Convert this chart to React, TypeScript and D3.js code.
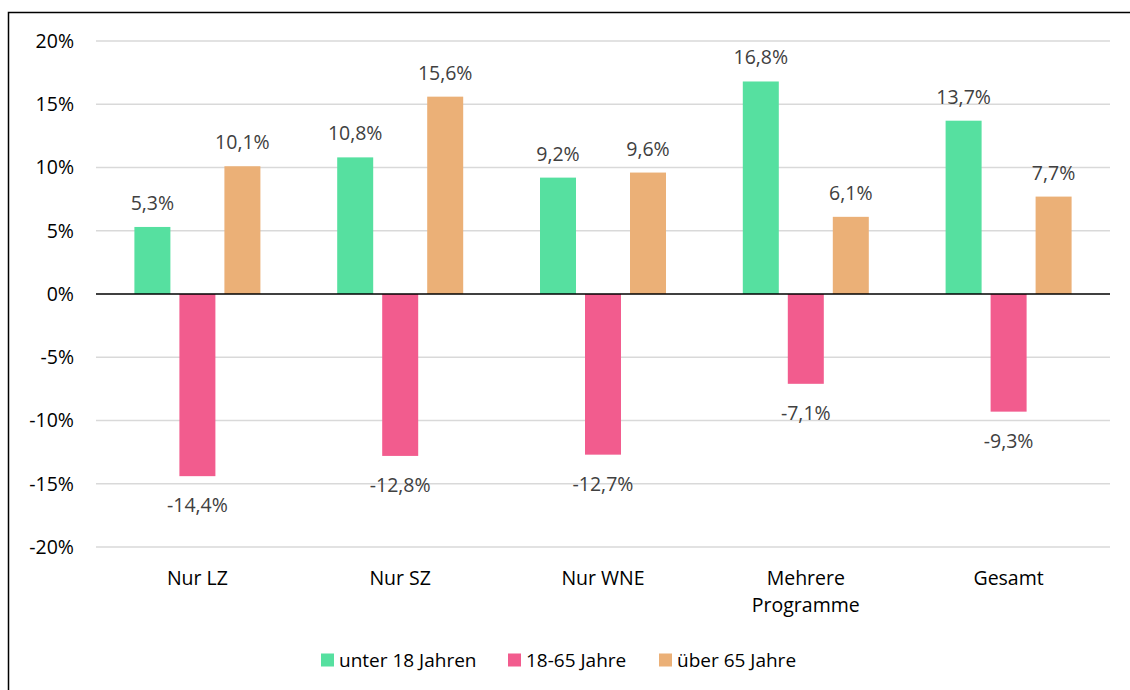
import React from "react";
import * as d3 from "d3";

const categories: string[][] = [["Nur LZ"], ["Nur SZ"], ["Nur WNE"], ["Mehrere", "Programme"], ["Gesamt"]];
const seriesNames = ["unter 18 Jahren", "18-65 Jahre", "über 65 Jahre"];
const seriesColors = ["#56E0A0", "#F25C8E", "#EBB077"];
const under18 = [5.3, 10.8, 9.2, 16.8, 13.7];
const age18to65 = [-14.4, -12.8, -12.7, -7.1, -9.3];
const over65 = [10.1, 15.6, 9.6, 6.1, 7.7];
const yTicks = [-20, -15, -10, -5, 0, 5, 10, 15, 20];

const W = 1130;
const H = 690;
const FONT = "'Open Sans', sans-serif";
const FS = 19.5;

export default function App() {
  const series = [under18, age18to65, over65];
  const left = 96, right = 1110, top = 41, bottom = 547;
  const x = d3.scaleBand<number>().domain(d3.range(categories.length)).range([left, right]).paddingInner(0).paddingOuter(0);
  const y = d3.scaleLinear().domain([-20, 20]).range([bottom, top]);
  const step = x.bandwidth();
  const groupW = 126;
  const xs = d3.scaleBand<number>().domain([0, 1, 2]).range([0, groupW]).paddingInner(0.2).paddingOuter(0);
  const fmt = (v: number) => v.toFixed(1).replace(".", ",") + "%";

  const legendItems = [
    { x: 321, label: seriesNames[0], color: seriesColors[0] },
    { x: 508, label: seriesNames[1], color: seriesColors[1] },
    { x: 659, label: seriesNames[2], color: seriesColors[2] },
  ];

  return (
    <svg width={W} height={H} style={{ position: "absolute", left: 0, top: 0 }} fontFamily={FONT}>
      <rect x={0} y={0} width={W} height={H} fill="#fff" />
      <rect x={8.5} y={12.5} width={W} height={H} fill="none" stroke="#000" strokeWidth={1.5} />
      {yTicks.map((t) => (
        <g key={t}>
          {t !== 0 && <line x1={left} x2={right} y1={y(t)} y2={y(t)} stroke="#d9d9d9" strokeWidth={1.5} />}
          <text x={74} y={y(t)} dy="0.35em" textAnchor="end" fontSize={FS} fill="#000">
            {t + "%"}
          </text>
        </g>
      ))}
      {series.map((vals, si) =>
        vals.map((v, ci) => {
          const bx = (x(ci) as number) + (step - groupW) / 2 + (xs(si) as number);
          const bw = xs.bandwidth();
          const y0 = y(0);
          const y1 = y(v);
          return (
            <g key={`${si}-${ci}`}>
              <rect x={bx} y={Math.min(y0, y1)} width={bw} height={Math.abs(y1 - y0)} fill={seriesColors[si]} />
              <text
                x={bx + bw / 2}
                y={v >= 0 ? y1 - 17 : y1 + 36}
                textAnchor="middle"
                fontSize={FS}
                fill="#404040"
              >
                {fmt(v)}
              </text>
            </g>
          );
        })
      )}
      <line x1={left} x2={right} y1={y(0)} y2={y(0)} stroke="#000" strokeWidth={1.5} />
      {categories.map((lines, ci) => (
        <text key={ci} x={(x(ci) as number) + step / 2} y={585} textAnchor="middle" fontSize={FS} fill="#000">
          {lines.map((l, li) => (
            <tspan key={li} x={(x(ci) as number) + step / 2} dy={li === 0 ? 0 : 27}>
              {l}
            </tspan>
          ))}
        </text>
      ))}
      {legendItems.map((it) => (
        <g key={it.label}>
          <rect x={it.x} y={653.5} width={13} height={13} fill={it.color} />
          <text x={it.x + 18} y={667} fontSize={19} fill="#000">
            {it.label}
          </text>
        </g>
      ))}
    </svg>
  );
}
